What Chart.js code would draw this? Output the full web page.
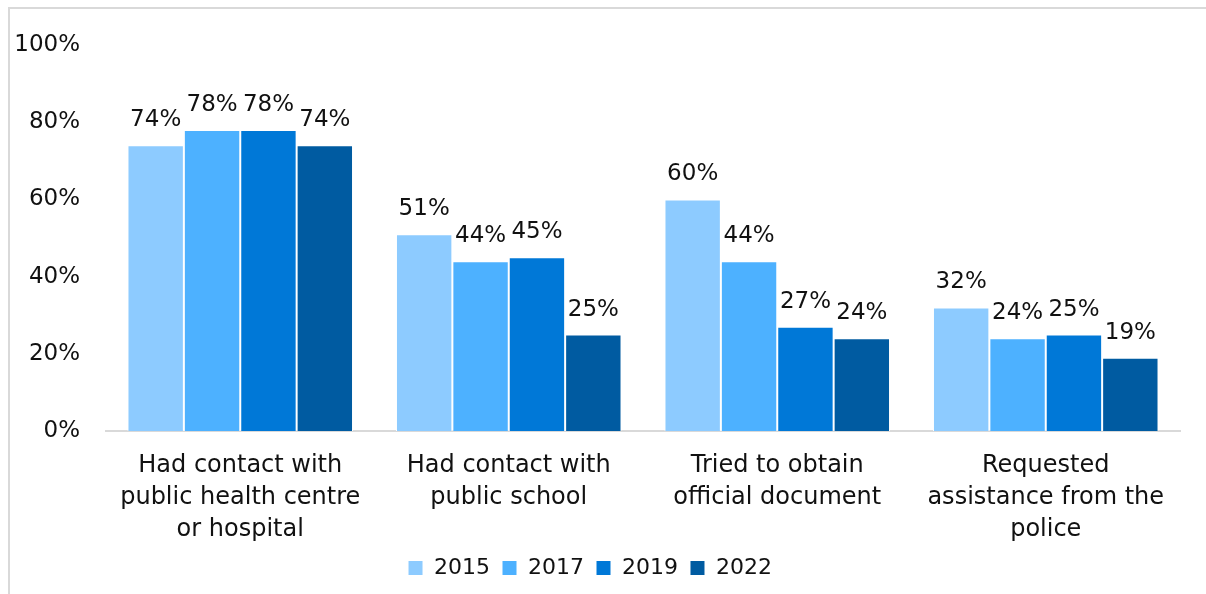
<!DOCTYPE html>
<html>
<head>
<meta charset="utf-8">
<script src="https://cdn.jsdelivr.net/npm/chart.js@4/dist/chart.umd.min.js"></script>
<style>
    html, body { margin: 0; padding: 0; background: #fff; overflow: hidden; }
    #wrap { position: absolute; left: 0; top: 0; width: 1206px; height: 594px; }
</style>
</head>
<body>
<div id="wrap"><canvas id="chart"></canvas></div>
<script>
const categories = [
    ['Had contact with', 'public health centre', 'or hospital'],
    ['Had contact with', 'public school'],
    ['Tried to obtain', 'official document'],
    ['Requested', 'assistance from the', 'police']
];
const years = ['2015', '2017', '2019', '2022'];
const values2015 = [74, 51, 60, 32];
const values2017 = [78, 44, 44, 24];
const values2019 = [78, 45, 27, 25];
const values2022 = [74, 25, 24, 19];
const yTicks = [0, 20, 40, 60, 80, 100];
const colors = ['#8dcbff', '#4db1ff', '#0078d7', '#005ba1'];

const fontFamily = "'DejaVu Sans', sans-serif";
const textColor = '#111111';

// light grey frame along the top and left edges
const frame = {
    id: 'frame',
    beforeDraw(chart) {
        const ctx = chart.ctx;
        ctx.save();
        ctx.strokeStyle = '#d9d9d9';
        ctx.lineWidth = 2;
        ctx.beginPath();
        ctx.moveTo(9, chart.height);
        ctx.lineTo(9, 8);
        ctx.lineTo(chart.width, 8);
        ctx.stroke();
        ctx.restore();
    }
};

// draws the percentage above each bar
const barLabels = {
    id: 'barLabels',
    afterDatasetsDraw(chart) {
        const ctx = chart.ctx;
        ctx.save();
        ctx.font = '23px ' + fontFamily;
        ctx.fillStyle = textColor;
        ctx.textAlign = 'center';
        ctx.textBaseline = 'alphabetic';
        chart.data.datasets.forEach((ds, i) => {
            chart.getDatasetMeta(i).data.forEach((bar, j) => {
                ctx.fillText(ds.data[j] + '%', bar.x, bar.y - 19);
            });
        });
        ctx.restore();
    }
};

const seriesValues = [values2015, values2017, values2019, values2022];

new Chart(document.getElementById('chart'), {
    type: 'bar',
    data: {
        labels: categories,
        datasets: years.map((y, i) => ({
            label: y,
            data: seriesValues[i],
            backgroundColor: colors[i],
            borderColor: '#ffffff',
            borderWidth: 1,
            barPercentage: 1,
            categoryPercentage: 0.84
        }))
    },
    options: {
        responsive: true,
        maintainAspectRatio: false,
        animation: false,
        layout: { padding: { top: 45, right: 26, left: 0, bottom: 5 } },
        scales: {
            y: {
                min: 0,
                max: 100,
                afterBuildTicks: s => { s.ticks = yTicks.map(v => ({ value: v })); },
                afterFit: s => { s.width = 106; },
                grid: { display: false, drawTicks: false },
                border: { display: false },
                ticks: {
                    padding: 26,
                    color: textColor,
                    font: { family: fontFamily, size: 23 },
                    callback: v => v + '%'
                }
            },
            x: {
                afterFit: s => { s.height = 114; },
                grid: { display: false, drawTicks: false },
                border: { display: true, color: '#d9d9d9', width: 2 },
                ticks: {
                    padding: 19,
                    color: textColor,
                    maxRotation: 0,
                    font: { family: fontFamily, size: 24, lineHeight: 1.33 }
                }
            }
        },
        plugins: {
            legend: {
                position: 'bottom',
                labels: {
                    boxWidth: 15,
                    boxHeight: 15,
                    padding: 12,
                    color: textColor,
                    font: { family: fontFamily, size: 22 }
                }
            },
            tooltip: { enabled: false }
        }
    },
    plugins: [frame, barLabels]
});
</script>
</body>
</html>
